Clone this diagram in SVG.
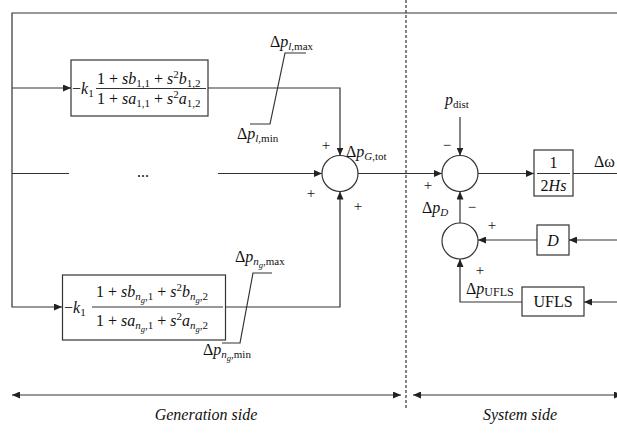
<svg xmlns="http://www.w3.org/2000/svg" width="617" height="433" viewBox="0 0 617 433">
<defs>
<marker id="ah" viewBox="0 0 8 7" refX="8" refY="3.5" markerWidth="8" markerHeight="7" markerUnits="userSpaceOnUse" orient="auto-start-reverse">
<path d="M0,0 L8,3.5 L0,7 z" fill="#222"/>
</marker>
<style>
.ln{fill:none;stroke:#333;stroke-width:1.2}
.bx{fill:#fff;stroke:#333;stroke-width:1.2}
.ar{fill:none;stroke:#333;stroke-width:1.2;marker-end:url(#ah)}
.t{font-family:"Liberation Serif","DejaVu Serif",serif;font-size:16px;fill:#111}
.s{font-size:11px}
.ss{font-size:8.5px}
.i{font-style:italic}
.sg{font-family:"Liberation Serif","DejaVu Serif",serif;font-size:15px;fill:#111;text-anchor:middle}
.lab{font-family:"Liberation Serif","DejaVu Serif",serif;font-size:16px;font-style:italic;fill:#111;text-anchor:middle}
</style>
</defs>
<rect width="617" height="433" fill="#fff"/>

<g id="connectors">
<path class="ar" d="M617,13 H12 V307 H62"/>
<path class="ar" d="M12,88 H71"/>
<path class="ln" d="M12,173.5 H69"/>
<path class="ar" d="M208,88 H340 V155.5"/>
<path class="ar" d="M218,173.5 H322"/>
<path class="ar" d="M226,307 H340 V191.5"/>
<path class="ar" d="M358,173.5 H442"/>
<path class="ar" d="M460,117 V155.5"/>
<path class="ar" d="M478,173.5 H534"/>
<path class="ln" d="M573,173.5 H617"/>
<path class="ar" d="M460,223 V191.5"/>
<path class="ar" d="M617,240 H569"/>
<path class="ar" d="M537,240 H478"/>
<path class="ar" d="M617,302 H584"/>
<path class="ar" d="M522,302 H460 V259"/>
<path class="ln" d="M406,0 V410" stroke-dasharray="3,2" stroke="#555"/>
<path class="ln" d="M12,395 H401" marker-start="url(#ah)" marker-end="url(#ah)"/>
<path class="ln" d="M413,395 H622" marker-start="url(#ah)" marker-end="url(#ah)"/>
</g>

<g id="filter1">
<rect class="bx" x="71" y="60" width="137" height="56"/>
<path class="ln" d="M96,88.5 H206"/>
<text class="t" x="72" y="94">−<tspan class="i">k</tspan><tspan class="s" dy="3">1</tspan></text>
<text class="t" x="97" y="84">1 + <tspan class="i">sb</tspan><tspan class="s" dy="3">1,1</tspan><tspan dy="-3"> + </tspan><tspan class="i">s</tspan><tspan class="s" dy="-6">2</tspan><tspan class="i" dy="6">b</tspan><tspan class="s" dy="3">1,2</tspan></text>
<text class="t" x="97" y="104">1 + <tspan class="i">sa</tspan><tspan class="s" dy="3">1,1</tspan><tspan dy="-3"> + </tspan><tspan class="i">s</tspan><tspan class="s" dy="-6">2</tspan><tspan class="i" dy="6">a</tspan><tspan class="s" dy="3">1,2</tspan></text>
</g>

<g id="limiter1">
<path class="ln" d="M250,124 H270 L285,53 H306"/>
<text class="t" x="270" y="47">Δ<tspan class="i">p</tspan><tspan class="s i" dy="3">l</tspan><tspan class="s">,max</tspan></text>
<text class="t" x="237" y="139">Δ<tspan class="i">p</tspan><tspan class="s i" dy="3">l</tspan><tspan class="s">,min</tspan></text>
</g>

<g id="dots">
<text class="t" x="143" y="177" font-size="12" text-anchor="middle">...</text>
</g>

<g id="filterN">
<rect class="bx" x="62.5" y="275" width="163" height="65"/>
<path class="ln" d="M92,307 H223"/>
<text class="t" x="64" y="313">−<tspan class="i">k</tspan><tspan class="s" dy="3">1</tspan></text>
<text class="t" x="96" y="297">1 + <tspan class="i">sb</tspan><tspan class="s i" dy="3">n</tspan><tspan class="ss i" dy="3">g</tspan><tspan class="s" dy="-3">,1</tspan><tspan dy="-3"> + </tspan><tspan class="i">s</tspan><tspan class="s" dy="-6">2</tspan><tspan class="i" dy="6">b</tspan><tspan class="s i" dy="3">n</tspan><tspan class="ss i" dy="3">g</tspan><tspan class="s" dy="-3">,2</tspan></text>
<text class="t" x="96" y="326">1 + <tspan class="i">sa</tspan><tspan class="s i" dy="3">n</tspan><tspan class="ss i" dy="3">g</tspan><tspan class="s" dy="-3">,1</tspan><tspan dy="-3"> + </tspan><tspan class="i">s</tspan><tspan class="s" dy="-6">2</tspan><tspan class="i" dy="6">a</tspan><tspan class="s i" dy="3">n</tspan><tspan class="ss i" dy="3">g</tspan><tspan class="s" dy="-3">,2</tspan></text>
</g>

<g id="limiterN">
<path class="ln" d="M222,343 H240 L253,273 H272"/>
<text class="t" x="235" y="262">Δ<tspan class="i">p</tspan><tspan class="s i" dy="3">n</tspan><tspan class="ss i" dy="3">g</tspan><tspan class="s" dy="-3">,max</tspan></text>
<text class="t" x="203" y="355">Δ<tspan class="i">p</tspan><tspan class="s i" dy="3">n</tspan><tspan class="ss i" dy="3">g</tspan><tspan class="s" dy="-3">,min</tspan></text>
</g>

<g id="sum1">
<circle class="bx" cx="340" cy="173.5" r="18"/>
<text class="sg" x="326" y="150">+</text>
<text class="sg" x="311" y="198">+</text>
<text class="sg" x="358" y="211">+</text>
<text class="t" x="346" y="157">Δ<tspan class="i">p</tspan><tspan class="s i" dy="3">G</tspan><tspan class="s">,tot</tspan></text>
</g>

<g id="sum2">
<circle class="bx" cx="460" cy="173.5" r="18"/>
<text class="t" x="445" y="105"><tspan class="i">p</tspan><tspan class="s" dy="3">dist</tspan></text>
<text class="sg" x="447" y="150">−</text>
<text class="sg" x="428" y="190">+</text>
<text class="t" x="422" y="213">Δ<tspan class="i">p</tspan><tspan class="s i" dy="3">D</tspan></text>
<text class="sg" x="472" y="212">−</text>
</g>

<g id="inertia">
<rect class="bx" x="534" y="150" width="39" height="46"/>
<path class="ln" d="M537,173.5 H570"/>
<text class="t" x="553.5" y="168" text-anchor="middle">1</text>
<text class="t" x="553.5" y="191" text-anchor="middle">2<tspan class="i">Hs</tspan></text>
<text class="t" x="594" y="167">Δω</text>
</g>

<g id="sum3">
<circle class="bx" cx="460" cy="241" r="18"/>
<text class="sg" x="492" y="230">+</text>
<text class="sg" x="480" y="275">+</text>
<text class="t" x="466" y="294">Δ<tspan class="i">p</tspan><tspan font-size="12" dy="2">UFLS</tspan></text>
</g>

<g id="damping">
<rect class="bx" x="537" y="225" width="32" height="30"/>
<text class="t i" x="553" y="246" text-anchor="middle">D</text>
</g>

<g id="ufls">
<rect class="bx" x="522" y="287" width="62" height="29"/>
<text class="t" x="553" y="307" text-anchor="middle">UFLS</text>
</g>

<g id="sides">
<text class="lab" x="206" y="420">Generation side</text>
<text class="lab" x="520" y="420">System side</text>
</g>
</svg>
